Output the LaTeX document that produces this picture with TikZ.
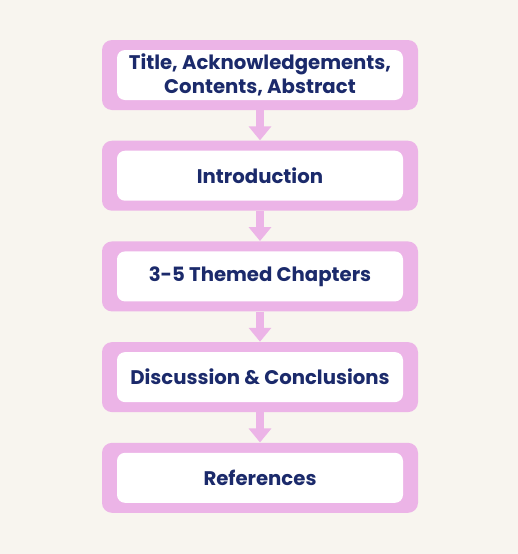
\documentclass[tikz,border=0pt]{standalone}
\usepackage{fontspec}
\setmainfont{Poppins}
\usepackage{tikz}
\usetikzlibrary{arrows.meta,positioning}
\definecolor{bgcol}{HTML}{F8F5EF}
\definecolor{pinkc}{HTML}{ECB4E7}
\definecolor{navy}{HTML}{1B2A6B}

\begin{document}
\begin{tikzpicture}[node distance=0.6cm,
	box/.style={fill=pinkc,rounded corners=0.2cm,minimum width=6.32cm,minimum height=1.4cm,
		align=center,text=navy,font=\fontsize{11.2}{13.5}\selectfont\bfseries,
		path picture={\fill[white,rounded corners=0.16cm]
			([xshift=0.3cm,yshift=0.2cm]path picture bounding box.south west) rectangle
			([xshift=-0.3cm,yshift=-0.2cm]path picture bounding box.north east);}},
	flow/.style={pinkc,line width=0.16cm,-{Triangle[width=0.44cm,length=0.28cm]}}]
	\fill[bgcol] (0,0) rectangle (10.36,-11.08);
	\useasboundingbox (0,0) rectangle (10.36,-11.08);

	\node[box] (title) at (5.2,-1.5) {Title, Acknowledgements,\\Contents, Abstract};
	\node[box] (intro)    [below=of title] {Introduction};
	\node[box] (chapters) [below=of intro] {3-5 Themed Chapters};
	\node[box] (discuss)  [below=of chapters] {Discussion \& Conclusions};
	\node[box] (refs)     [below=of discuss] {References};

	\path[flow] (title) edge (intro)
		(intro) edge (chapters)
		(chapters) edge (discuss)
		(discuss) edge (refs);
\end{tikzpicture}
\end{document}
